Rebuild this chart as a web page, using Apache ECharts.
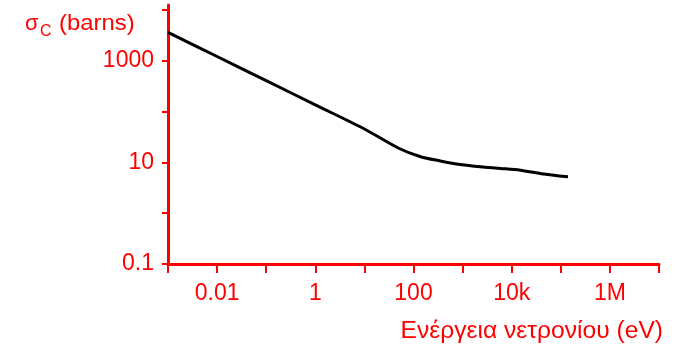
<!DOCTYPE html>
<html>
<head>
<meta charset="utf-8">
<script src="https://cdn.jsdelivr.net/npm/echarts@6/dist/echarts.min.js"></script>
<style>
html,body{margin:0;padding:0;background:#fff;}
#chart{width:679px;height:350px;}
</style>
</head>
<body>
<div id="chart"></div>
<script>
// Neutron energy (eV) and capture cross-section (barns)
const energy = [0.001, 0.01, 0.1, 1, 10, 50, 140, 350, 900, 2300, 6000, 15000, 40000, 140000];
const sigma  = [3630, 1217, 406, 136, 45.5, 19, 12.9, 10.7, 9.1, 8.2, 7.6, 7.0, 6.0, 5.2];

const xTickMarks  = [0.001, 0.01, 0.1, 1, 10, 100, 1000, 10000, 100000, 1000000, 10000000];
const xTickValues = [0.01, 1, 100, 10000, 1000000];
const xTickLabels = ['0.01', '1', '100', '10k', '1M'];
const yTickMarks  = [0.1, 1, 10, 100, 1000, 10000];
const yTickValues = [0.1, 10, 1000];
const yTickLabels = ['0.1', '10', '1000'];

const yTitleSymbol = 'σ';
const yTitleSub = 'C';
const yTitleUnit = '(barns)';
const xTitle = 'Ενέργεια νετρονίου (eV)';
const RED = '#ff0000';
const FONT = '"Liberation Sans", Arial, sans-serif';

function labelFor(values, labels) {
  return function (v) {
    const lv = Math.round(Math.log10(v));
    for (let i = 0; i < values.length; i++) {
      if (Math.round(Math.log10(values[i])) === lv) return labels[i];
    }
    return '';
  };
}

const chart = echarts.init(document.getElementById('chart'), null, {renderer: 'canvas'});
chart.setOption({
  animation: false,
  backgroundColor: '#fff',
  grid: {left: 168, right: 20, top: 5, bottom: 86, containLabel: false},
  graphic: [
    {type: 'text', x: 25, y: 24, style: {text: yTitleSymbol, fill: RED, font: '22px ' + FONT, align: 'left', verticalAlign: 'middle'}},
    {type: 'text', x: 40, y: 31.5, style: {text: yTitleSub, fill: RED, font: '16px ' + FONT, align: 'left', verticalAlign: 'middle'}},
    {type: 'text', x: 59, y: 24, scaleX: 1.086, style: {text: yTitleUnit, fill: RED, font: '22px ' + FONT, align: 'left', verticalAlign: 'middle'}},
    {type: 'text', x: 663, y: 331.3, scaleX: 1.07, style: {text: xTitle, fill: RED, font: '23px ' + FONT, align: 'right', verticalAlign: 'middle'}}
  ],
  xAxis: {
    type: 'log', logBase: 10, min: 0.001, max: 1e7,
    axisLine: {show: true, lineStyle: {color: RED, width: 3}},
    axisTick: {show: true, length: 9, customValues: xTickMarks, lineStyle: {color: RED, width: 2}},
    splitLine: {show: false},
    axisLabel: {
      color: RED, fontSize: 23, fontFamily: FONT, margin: 18,
      customValues: xTickValues,
      formatter: labelFor(xTickValues, xTickLabels)
    }
  },
  yAxis: {
    type: 'log', logBase: 10, min: 0.1, max: 12550,
    axisLine: {show: true, lineStyle: {color: RED, width: 3}},
    axisTick: {show: true, length: 6, customValues: yTickMarks, lineStyle: {color: RED, width: 2}},
    splitLine: {show: false},
    axisLabel: {
      color: RED, fontSize: 23, fontFamily: FONT, margin: 14,
      padding: [7, 0, 0, 0],
      customValues: yTickValues,
      formatter: labelFor(yTickValues, yTickLabels)
    }
  },
  series: [{
    type: 'line',
    data: energy.map((e, i) => [e, sigma[i]]),
    smooth: 0.3,
    showSymbol: false,
    lineStyle: {color: '#000', width: 3},
    z: 1
  }]
});
</script>
</body>
</html>
